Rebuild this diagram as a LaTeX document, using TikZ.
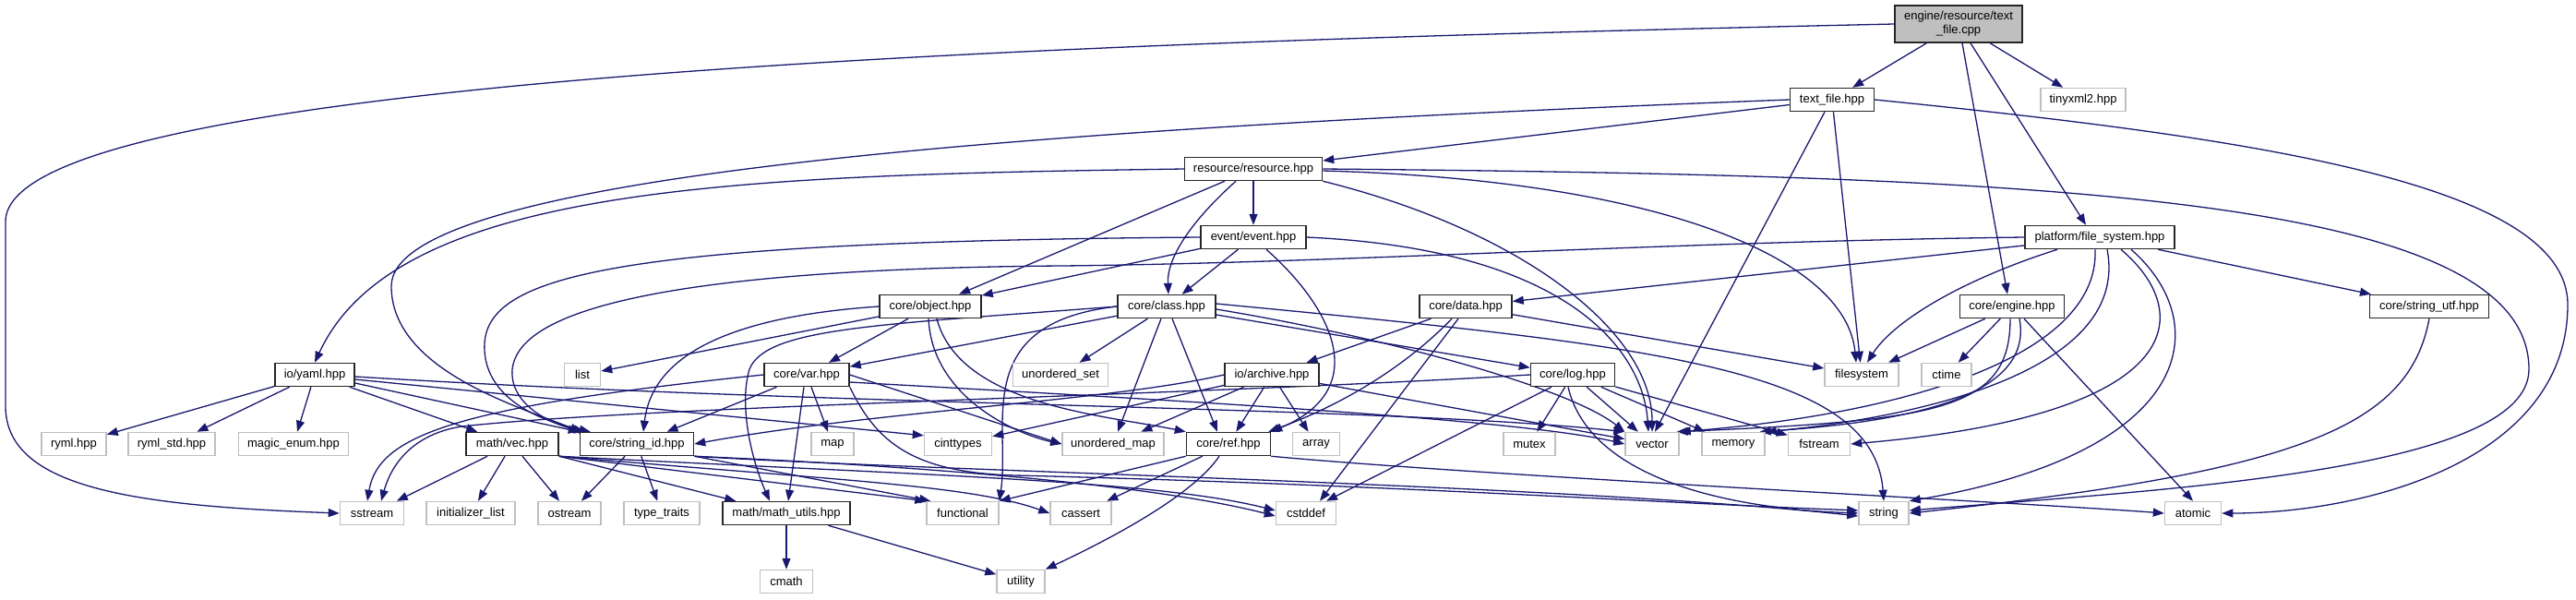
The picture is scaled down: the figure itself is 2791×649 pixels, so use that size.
\documentclass[tikz,border=0pt]{standalone}
\usepackage{fontspec}
\newfontfamily\doxfont{Liberation Sans}
\usetikzlibrary{arrows.meta,calc,backgrounds}
\definecolor{edgeblue}{HTML}{191970}
\definecolor{boxgray}{HTML}{BFBFBF}
\tikzset{
  dox/.style={font=\doxfont\fontsize{6.5}{7.5}\selectfont, inner sep=0pt, minimum height=12.5pt, fill=white},
  hdr/.style={dox, draw=black!85, line width=0.75pt},
  sys/.style={dox, draw=boxgray, line width=0.75pt},
  rootbox/.style={dox, draw=black!85, line width=0.75pt, fill=boxgray, align=center, minimum height=20pt},
  e/.style={draw=edgeblue, line width=0.65pt, -{Triangle[length=6pt,width=4.5pt]}}
}
\begin{document}
\begin{tikzpicture}[x=0.5pt,y=-0.5pt]
\useasboundingbox (0,0) rectangle (2791,649);
% row 0
\node[rootbox, minimum width=69pt] (cpp) at (2122,26) {engine/resource/text\\\_file.cpp};
% row 1
\node[hdr, minimum width=45.5pt] (tfh) at (1985,108) {text\_file.hpp};
\node[sys, minimum width=46pt] (tiny) at (2257,108) {tinyxml2.hpp};
% row 2
\node[hdr, minimum width=74.5pt] (res) at (1358,183) {resource/resource.hpp};
% row 3
\node[hdr, minimum width=57pt] (event) at (1358,257) {event/event.hpp};
\node[hdr, minimum width=81pt] (fsys) at (2275,257) {platform/file\_system.hpp};
% row 4
\node[hdr, minimum width=55pt] (object) at (1008,332) {core/object.hpp};
\node[hdr, minimum width=53pt] (class) at (1264,332) {core/class.hpp};
\node[hdr, minimum width=50pt] (data) at (1588,332) {core/data.hpp};
\node[hdr, minimum width=56.5pt] (engine) at (2180,332) {core/engine.hpp};
\node[hdr, minimum width=64.5pt] (sutf) at (2632,332) {core/string\_utf.hpp};
% row 5
\node[hdr, minimum width=43pt] (yaml) at (341,406) {io/yaml.hpp};
\node[sys, minimum width=19.5pt] (list) at (631,406) {list};
\node[hdr, minimum width=46pt] (var) at (874,406) {core/var.hpp};
\node[sys, minimum width=51.5pt] (uset) at (1149,406) {unordered\_set};
\node[hdr, minimum width=51pt] (archive) at (1378,406) {io/archive.hpp};
\node[hdr, minimum width=45.5pt] (log) at (1704,406) {core/log.hpp};
\node[sys, minimum width=40pt] (filesystem) at (2017,406) {filesystem};
\node[sys, minimum width=27pt] (ctime) at (2109,406) {ctime};
% row 6
\node[sys, minimum width=35pt] (ryml) at (80,481) {ryml.hpp};
\node[sys, minimum width=47pt] (rymlstd) at (186,481) {ryml\_std.hpp};
\node[sys, minimum width=59.5pt] (magic) at (318,481) {magic\_enum.hpp};
\node[hdr, minimum width=50pt] (vec) at (555,481) {math/vec.hpp};
\node[hdr, minimum width=61.5pt] (sid) at (690,481) {core/string\_id.hpp};
\node[sys, minimum width=23pt] (map) at (902,481) {map};
\node[sys, minimum width=36.5pt] (cint) at (1038,481) {cinttypes};
\node[sys, minimum width=55pt] (umap) at (1206,481) {unordered\_map};
\node[hdr, minimum width=45.5pt] (ref) at (1331,481) {core/ref.hpp};
\node[sys, minimum width=25.5pt] (array) at (1426,481) {array};
\node[sys, minimum width=28pt] (mutex) at (1657,481) {mutex};
\node[sys, minimum width=29pt] (vector) at (1790,481) {vector};
\node[sys, minimum width=34pt] (memory) at (1878,481) {memory};
\node[sys, minimum width=33.5pt] (fstream) at (1971,481) {fstream};
% row 7
\node[sys, minimum width=34.5pt] (sstream) at (403,556) {sstream};
\node[sys, minimum width=48pt] (initl) at (510,556) {initializer\_list};
\node[sys, minimum width=34pt] (ostream) at (617,556) {ostream};
\node[sys, minimum width=41pt] (ttraits) at (717,556) {type\_traits};
\node[hdr, minimum width=69pt] (mathu) at (852,556) {math/math\_utils.hpp};
\node[sys, minimum width=39pt] (functional) at (1043,556) {functional};
\node[sys, minimum width=33pt] (cassert) at (1171,556) {cassert};
\node[sys, minimum width=32.5pt] (cstddef) at (1415,556) {cstddef};
\node[sys, minimum width=27pt] (string) at (2041,556) {string};
\node[sys, minimum width=30.5pt] (atomic) at (2376,556) {atomic};
% row 8
\node[sys, minimum width=28.5pt] (cmath) at (852,630) {cmath};
\node[sys, minimum width=26pt] (utility) at (1106,630) {utility};

\begin{scope}[on background layer]
% text_file.cpp
\draw[e] (cpp) -- (tfh);
\draw[e] (cpp) -- (tiny);
\draw[e] ($(cpp.south)+(4,0)$) -- ($(engine.north)+(-5,0)$);
\draw[e] ($(cpp.south)+(13,0)$) -- ($(fsys.north)+(-15,0)$);
\draw[e] (cpp.west) .. controls (1200,45) and (6,80) .. (6,240) -- (6,440) .. controls (6,530) and (150,548) .. (sstream.west);
% text_file.hpp
\draw[e] (tfh) -- (res);
\draw[e] (tfh.west) .. controls (1100,140) and (424,190) .. (424,310) .. controls (424,400) and (560,440) .. ($(sid.north west)+(2,0)$);
\draw[e] (tfh) -- (filesystem);
\draw[e] ($(tfh.south)+(-8,0)$) -- ($(vector.north)+(3,0)$);
\draw[e] (tfh.east) .. controls (2450,150) and (2782,200) .. (2782,330) .. controls (2782,500) and (2560,556) .. (atomic.east);
% resource.hpp
\draw[e] (res.west) .. controls (800,190) and (430,200) .. (yaml.north);
\draw[e] (res) -- (object);
\draw[e] ($(res.south)+(-19,0)$) .. controls (1290,240) and (1264,280) .. ($(class.north)+(2,0)$);
\draw[e] (res) -- (event);
\draw[e] ($(res.east)+(0,2)$) .. controls (1800,195) and (2000,280) .. ($(filesystem.north)+(-6,0)$);
\draw[e] (res.south east) .. controls (1650,250) and (1790,360) .. (vector.north);
\draw[e] (res.east) .. controls (2200,190) and (2740,210) .. (2740,400) .. controls (2740,510) and (2350,530) .. ($(string.east)+(0,-3)$);
% event.hpp
\draw[e] (event) -- (class);
\draw[e] (event) -- (object);
\draw[e] (event.west) .. controls (650,262) and (520,300) .. (525,380) .. controls (528,430) and (580,455) .. ($(sid.north west)+(12,0)$);
\draw[e] ($(event.south)+(14,0)$) .. controls (1440,330) and (1490,420) .. (ref.north east);
\draw[e] (event.east) .. controls (1700,270) and (1780,380) .. ($(vector.north)+(-4,0)$);
% file_system.hpp
\draw[e] (fsys) -- (data);
\draw[e] (fsys) -- (sutf);
\draw[e] (fsys.west) .. controls (1800,262) and (1450,285) .. (1150,288) .. controls (620,292) and (560,360) .. (555,400) .. controls (552,440) and (600,460) .. ($(sid.north west)+(6,0)$);
\draw[e] ($(fsys.south)+(-46,0)$) .. controls (2120,305) and (2050,350) .. ($(filesystem.north)+(6,0)$);
\draw[e] ($(fsys.south)+(-5,0)$) .. controls (2275,390) and (2050,450) .. (vector.north east);
\draw[e] ($(fsys.south)+(8,0)$) .. controls (2310,410) and (2050,455) .. (memory.north east);
\draw[e] ($(fsys.south)+(23,0)$) .. controls (2380,340) and (2370,450) .. (fstream.east);
\draw[e] ($(fsys.south)+(34,0)$) .. controls (2400,350) and (2380,490) .. (string.north east);
% engine.hpp
\draw[e] (engine) -- (filesystem);
\draw[e] (engine) -- (ctime);
\draw[e] ($(engine.south)+(-2,0)$) .. controls (2178,445) and (2100,455) .. ($(vector.north east)+(-3,0)$);
\draw[e] ($(engine.south)+(8,0)$) .. controls (2205,435) and (2050,458) .. ($(memory.north east)+(-6,0)$);
\draw[e] ($(engine.south)+(13,0)$) -- (atomic.north);
% object.hpp
\draw[e] (object) -- (list);
\draw[e] (object) -- (var);
\draw[e] (object.west) .. controls (760,345) and (705,400) .. ($(sid.north)+(7,0)$);
\draw[e] ($(object.south)+(7,0)$) .. controls (1040,440) and (1200,450) .. (ref.north west);
\draw[e] ($(object.south)+(-2,0)$) .. controls (1010,430) and (1100,470) .. (umap.west);
% class.hpp
\draw[e] (class) -- (var);
\draw[e] (class) -- (uset);
\draw[e] ($(class.south)+(-6,0)$) -- ($(umap.north)+(5,0)$);
\draw[e] ($(class.south)+(6,0)$) -- ($(ref.north)+(-12,0)$);
\draw[e] (class) -- (log);
\draw[e] (class.west) .. controls (1050,350) and (1095,460) .. (functional.north east);
\draw[e] (class.west) .. controls (950,352) and (830,355) .. (812,400) .. controls (800,440) and (815,500) .. ($(mathu.north)+(-18,0)$);
\draw[e] ($(class.east)+(0,3)$) .. controls (1500,365) and (1700,420) .. (vector.north west);
\draw[e] ($(class.east)+(0,-3)$) .. controls (1800,375) and (2030,400) .. (string.north);
% data.hpp
\draw[e] (data) -- (archive);
\draw[e] ($(data.south)+(-15,0)$) .. controls (1520,400) and (1450,440) .. ($(ref.north east)+(-3,0)$);
\draw[e] ($(data.south)+(-8,0)$) -- ($(cstddef.north)+(15,0)$);
\draw[e] (data) -- (filesystem);
% io/archive.hpp
\draw[e] (archive.west) .. controls (1200,435) and (950,445) .. (sid.east);
\draw[e] (archive) -- (cint);
\draw[e] (archive) -- (umap);
\draw[e] (archive) -- (ref);
\draw[e] (archive) -- (array);
\draw[e] (archive) -- (vector);
% core/log.hpp
\draw[e] (log) -- (mutex);
\draw[e] (log) -- (vector);
\draw[e] (log) -- (memory);
\draw[e] (log) -- (fstream);
\draw[e] ($(log.south)+(-5,0)$) .. controls (1720,510) and (1850,550) .. (string.west);
\draw[e] ($(log.south)+(-23,0)$) -- ($(cstddef.north)+(22,0)$);
\draw[e] (log.west) .. controls (1300,428) and (700,440) .. (500,462) .. controls (450,470) and (425,500) .. ($(sstream.north)+(10,0)$);
% core/var.hpp
\draw[e] (var.west) .. controls (500,440) and (410,470) .. ($(sstream.north)+(-5,0)$);
\draw[e] (var) -- (sid);
\draw[e] (var) -- (map);
\draw[e] ($(var.south)+(-3,0)$) -- ($(mathu.north)+(2,0)$);
\draw[e] (var.east) -- (umap.west);
\draw[e] ($(var.east)+(0,8)$) .. controls (1300,435) and (1650,455) .. (vector.west);
\draw[e] (var.south east) .. controls (950,480) and (990,512) .. (1100,515) .. controls (1500,525) and (1800,545) .. ($(string.west)+(0,-3)$);
% math/vec.hpp
\draw[e] (vec) -- (sstream);
\draw[e] (vec) -- (initl);
\draw[e] (vec) -- (ostream);
\draw[e] (vec.south east) -- ($(mathu.north west)+(15,0)$);
\draw[e] (vec.south east) -- (functional.north west);
\draw[e] (vec.south east) .. controls (900,520) and (1050,525) .. (cassert.west);
\draw[e] (vec.south east) .. controls (1000,515) and (1250,520) .. ($(cstddef.west)+(0,-3)$);
% core/string_id.hpp
\draw[e] (sid) -- (ostream);
\draw[e] (sid) -- (ttraits);
\draw[e] (sid.south east) -- ($(functional.north west)+(5,0)$);
\draw[e] (sid.south east) .. controls (1000,510) and (1700,525) .. ($(string.west)+(0,3)$);
\draw[e] (sid.south east) .. controls (1000,505) and (1250,525) .. ($(cstddef.west)+(0,3)$);
% math_utils
\draw[e] (mathu) -- (cmath);
\draw[e] (mathu) -- (utility);
% core/ref.hpp
\draw[e] (ref.south west) -- (functional.north east);
\draw[e] (ref) -- (cassert);
\draw[e] ($(ref.south)+(-10,0)$) .. controls (1290,540) and (1190,590) .. (utility.north east);
\draw[e] (ref.south east) .. controls (1600,515) and (2200,545) .. (atomic.west);
% core/string_utf.hpp
\draw[e] (sutf.south) .. controls (2610,460) and (2500,510) .. (string.east);
% io/yaml.hpp
\draw[e] (yaml) -- (ryml);
\draw[e] (yaml) -- (rymlstd);
\draw[e] (yaml) -- (magic);
\draw[e] (yaml) -- (vec);
\draw[e] ($(yaml.east)+(0,9)$) -- (sid.north west);
\draw[e] ($(yaml.east)+(0,5)$) -- ($(cint.north west)+(0,4)$);
\draw[e] ($(yaml.east)+(0,2)$) .. controls (900,440) and (1500,440) .. (vector.north west);
\end{scope}
\end{tikzpicture}
\end{document}
